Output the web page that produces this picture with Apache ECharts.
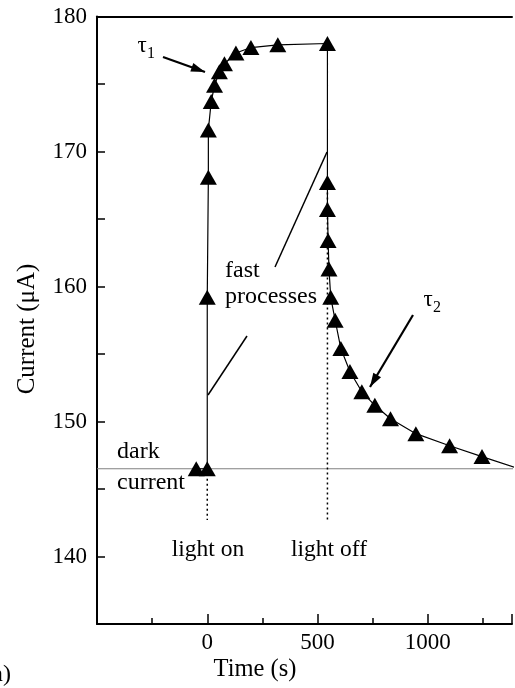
<!DOCTYPE html>
<html>
<head>
<meta charset="utf-8">
<script src="https://cdn.jsdelivr.net/npm/echarts@6/dist/echarts.min.js"></script>
<style>html,body{margin:0;padding:0;background:#fff;}#c{width:515px;height:688px;}</style>
</head>
<body>
<div id="c"></div>
<script>
// Data
var times    = [-50, 0, 0, 5, 5, 18, 33, 55, 78, 130, 198, 320, 545, 545, 545, 548, 552, 560, 580, 606, 647, 701, 760, 831, 946, 1099, 1246, 1450];
var currents = [146.5, 146.5, 159.2, 168.1, 171.6, 173.7, 174.9, 175.9, 176.5, 177.3, 177.7, 177.9, 178.0, 167.7, 165.7, 163.4, 161.3, 159.2, 157.5, 155.4, 153.7, 152.2, 151.2, 150.2, 149.1, 148.2, 147.4, 146.3];
var darkCurrent = 146.5;
var darkLineX = [-500, 1500];
var lightOnX = [0, 0];
var lightOnY = [146.5, 142.7];
var lightOffX = [545, 545];
var lightOffY = [167.7, 142.7];
var xTickLabels = [0, 500, 1000];
var yTickLabels = [140, 150, 160, 170, 180];
var xMin = -500, xMax = 1382, yMin = 135, yMax = 180;

var FONT = 'Liberation Serif';
var chart = echarts.init(document.getElementById('c'), null, {renderer: 'canvas'});

function pairs(xs, ys) { return xs.map(function (x, i) { return [x, ys[i]]; }); }

function arrowHead(x1, y1, x2, y2, len, half) {
  var dx = x2 - x1, dy = y2 - y1, L = Math.sqrt(dx * dx + dy * dy);
  var ux = dx / L, uy = dy / L;
  var bx = x2 - ux * len, by = y2 - uy * len;
  var px = -uy * half, py = ux * half;
  return [[x2, y2], [bx + px, by + py], [bx - px, by - py]];
}
function txt(x, y, s, size, align) {
  return {type: 'text', x: x, y: y, z: 100,
    style: {text: s, font: size + 'px "' + FONT + '"', fill: '#000', align: align || 'center', verticalAlign: 'middle'}};
}
function seg(x1, y1, x2, y2, w) {
  return {type: 'line', z: 100, shape: {x1: x1, y1: y1, x2: x2, y2: y2}, style: {stroke: '#000', lineWidth: w || 1.5}};
}
function arrow(x1, y1, x2, y2) {
  var h = arrowHead(x1, y1, x2, y2, 14, 4.5);
  return [seg(x1, y1, x2, y2, 2.2), {type: 'polygon', z: 100, shape: {points: h}, style: {fill: '#000'}}];
}

var graphics = [
  txt(142, 46, 'τ', 23), txt(151, 54, '1', 16),
  txt(428, 300, 'τ', 23), txt(437, 308, '2', 16),
  txt(225, 271, 'fast', 24, 'left'),
  txt(225, 297, 'processes', 24, 'left'),
  txt(117, 452, 'dark', 24, 'left'),
  txt(117, 483, 'current', 24, 'left'),
  txt(208, 550, 'light on', 23.5),
  txt(329, 550, 'light off', 23.5),
  txt(255, 670, 'Time (s)', 24.5),
  txt(11, 675, '(a)', 24, 'right'),
  {type: 'text', x: 27, y: 329, rotation: Math.PI / 2, z: 100,
    style: {text: 'Current (μA)', font: '25px "' + FONT + '"', fill: '#000', align: 'center', verticalAlign: 'middle'}},
  seg(275, 267, 327, 152, 1.5),
  seg(247, 336, 208, 395, 1.5)
].concat(arrow(163, 57, 205, 72)).concat(arrow(413, 315, 370, 387));

var option = {
  animation: false,
  backgroundColor: '#fff',
  grid: {left: 97, top: 16.5, right: 0, bottom: 64},
  xAxis: [{
    type: 'value', min: xMin, max: xMax, interval: 500,
    axisLine: {show: true, onZero: false, lineStyle: {color: '#000', width: 2}},
    axisTick: {show: true, inside: true, length: 10, lineStyle: {color: '#000', width: 1.5}},
    minorTick: {show: true, splitNumber: 2, length: 6, lineStyle: {color: '#000', width: 1.5}},
    splitLine: {show: false},
    axisLabel: {margin: 7, color: '#000', fontFamily: FONT, fontSize: 23,
      formatter: function (v) { return xTickLabels.indexOf(v) >= 0 ? String(v) : ''; }}
  }, {
    type: 'value', position: 'top', min: xMin, max: xMax,
    axisLine: {show: true, onZero: false, lineStyle: {color: '#000', width: 2}},
    axisTick: {show: false}, axisLabel: {show: false}, splitLine: {show: false}
  }],
  yAxis: {
    type: 'value', min: yMin, max: yMax, interval: 5,
    axisLine: {show: true, onZero: false, lineStyle: {color: '#000', width: 2}},
    axisTick: {show: true, inside: true, length: 8, lineStyle: {color: '#000', width: 1.5}},
    splitLine: {show: false},
    axisLabel: {margin: 10, color: '#000', fontFamily: FONT, fontSize: 23,
      formatter: function (v) { return yTickLabels.indexOf(v) >= 0 ? String(v) : ''; }}
  },
  series: [
    {type: 'line', data: pairs(darkLineX, [darkCurrent, darkCurrent]), symbol: 'none',
      lineStyle: {color: '#808080', width: 1}, z: 1},
    {type: 'line', data: pairs(lightOnX, lightOnY), symbol: 'none',
      lineStyle: {color: '#000', width: 1.5, type: [2, 3]}, z: 2},
    {type: 'line', data: pairs(lightOffX, lightOffY), symbol: 'none',
      lineStyle: {color: '#000', width: 1.5, type: [2, 3]}, z: 2},
    {type: 'line', data: pairs(times, currents), symbol: 'triangle', symbolSize: [17, 15],
      itemStyle: {color: '#000'}, lineStyle: {color: '#000', width: 1.2}, z: 3}
  ],
  graphic: graphics
};
chart.setOption(option);
</script>
</body>
</html>
